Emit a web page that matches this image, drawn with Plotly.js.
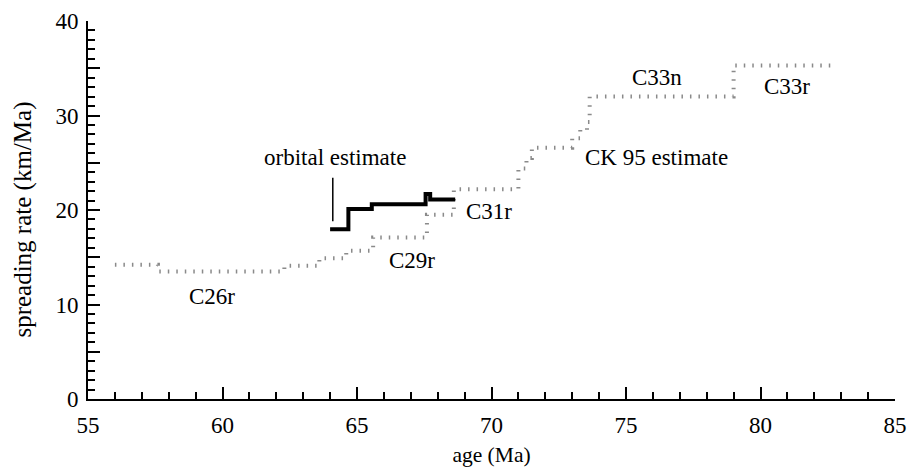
<!DOCTYPE html>
<html><head><meta charset="utf-8">
<script src="https://cdn.plot.ly/plotly-3.0.1.min.js"></script>
<style>html,body{margin:0;padding:0;background:#fff;}#chart{width:907px;height:467px;}</style>
</head><body><div id="chart"></div>
<script>
// CK 95 estimate (step function: rate holds from each age until the next)
const ckAges  = [56.0, 57.6, 62.3, 63.6, 64.6, 65.6, 67.6, 68.6, 71.0, 71.3, 71.5, 73.0, 73.3, 73.55, 73.65, 79.0, 82.85];
const ckRates = [14.2, 13.5, 14.1, 14.9, 15.7, 17.1, 19.5, 22.2, 24.4, 25.5, 26.6, 27.6, 28.5, 29.3, 32.0, 35.3, 35.3];
// orbital estimate
const orbAges  = [64.0, 64.68, 65.55, 67.55, 67.72, 68.65];
const orbRates = [17.95, 20.1, 20.6, 21.7, 21.1, 21.1];
// leader line for the "orbital estimate" label
const leaderAges  = [64.1, 64.1];
const leaderRates = [18.8, 23.4];
// labels
const labelTexts = ["orbital estimate", "C26r", "C29r", "C31r", "CK 95 estimate", "C33n", "C33r"];
const labelAges  = [64.2, 59.6, 67.05, 69.9, 76.15, 76.15, 81.0];
const labelRates = [25.6, 10.8, 14.7, 19.8, 25.6, 34.0, 33.1];
// tick labels (major ticks every 5; y labels only every 10; minor ticks every 1)
const xTickStart = 55, xTickStep = 5, xMinorStep = 1;
const yTickStep = 5, yMinorStep = 1;
const yHiddenLabels = ["5", "15", "25", "35"];
const xTitle = "age (Ma)";
const yTitle = "spreading rate (km/Ma)";
const xRange = [55, 85], yRange = [0, 40];

const font = "Liberation Serif";
const yAlias = {};
yHiddenLabels.forEach(k => { yAlias[k] = ""; });

const traces = [
  {x: ckAges, y: ckRates, mode: "lines", line: {shape: "hv", color: "#8a8a8a", width: 4, dash: "1.5px,7px"}, hoverinfo: "skip"},
  {x: orbAges, y: orbRates, mode: "lines", line: {shape: "hv", color: "#000", width: 4}, hoverinfo: "skip"},
  {x: leaderAges, y: leaderRates, mode: "lines", line: {color: "#000", width: 1.5}, hoverinfo: "skip"},
  {x: ckAges, y: ckRates, xaxis: "x2", yaxis: "y2", mode: "lines", opacity: 0, line: {color: "rgba(0,0,0,0)", width: 1}, hoverinfo: "skip"}
];

const annotations = labelTexts.map((t, i) => ({
  x: labelAges[i], y: labelRates[i], xref: "x", yref: "y", text: t, showarrow: false,
  font: {family: font, size: 23, color: "#000"}, xanchor: "center", yanchor: "middle"
}));
annotations.push({
  text: yTitle, textangle: -90, showarrow: false,
  xref: "paper", yref: "paper", x: -0.0811, y: 0.4735, xanchor: "center", yanchor: "middle",
  font: {family: font, size: 25, color: "#000"}
});

const layout = {
  width: 907, height: 467,
  margin: {l: 87.5, r: 12, t: 21, b: 68},
  paper_bgcolor: "#fff", plot_bgcolor: "#fff",
  showlegend: false,
  font: {family: font, size: 23, color: "#000"},
  xaxis: {
    range: xRange, showgrid: false, zeroline: false,
    showline: true, linecolor: "#000", linewidth: 2,
    tickmode: "linear", tick0: xTickStart, dtick: xTickStep,
    ticks: "inside", ticklen: 12, tickwidth: 2, tickcolor: "#000",
    ticklabelstandoff: 4,
    tickfont: {family: font, size: 23},
    title: {text: xTitle, font: {family: font, size: 21.5}, standoff: 10}
  },
  yaxis: {
    range: yRange, showgrid: false, zeroline: false,
    showline: true, linecolor: "#000", linewidth: 2,
    tickmode: "linear", tick0: 0, dtick: yTickStep, labelalias: yAlias,
    ticks: "inside", ticklen: 12, tickwidth: 2, tickcolor: "#000",
    ticklabelstandoff: 3,
    tickfont: {family: font, size: 23}
  },
  xaxis2: {
    overlaying: "x", anchor: "y", side: "bottom", range: xRange,
    showgrid: false, zeroline: false, showline: false, showticklabels: false,
    tickmode: "linear", tick0: xTickStart, dtick: xMinorStep,
    ticks: "inside", ticklen: 7, tickwidth: 2, tickcolor: "#000"
  },
  yaxis2: {
    overlaying: "y", anchor: "x", side: "left", range: yRange,
    showgrid: false, zeroline: false, showline: false, showticklabels: false,
    tickmode: "linear", tick0: 0, dtick: yMinorStep,
    ticks: "inside", ticklen: 7, tickwidth: 2, tickcolor: "#000"
  },
  annotations: annotations
};

Plotly.newPlot("chart", traces, layout, {staticPlot: true, displayModeBar: false});
</script>
</body></html>
